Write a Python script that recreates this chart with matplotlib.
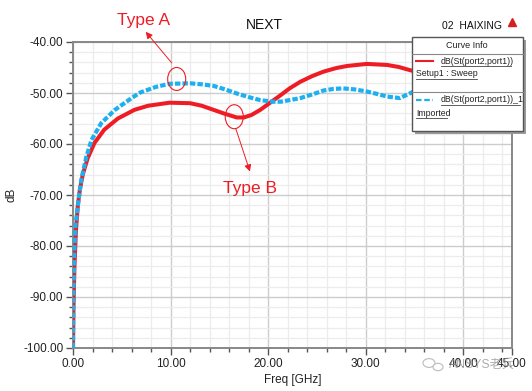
import matplotlib
matplotlib.use('Agg')
import matplotlib.pyplot as plt
from matplotlib.patches import Ellipse, Rectangle, Circle
from matplotlib.lines import Line2D
from matplotlib.ticker import MultipleLocator, FixedLocator, FormatStrFormatter

plt.rcParams['font.family'] = ['Liberation Sans', 'Noto Sans CJK SC', 'DejaVu Sans']

# values
freq_a = [0.0, 0.05, 0.15, 0.3, 0.5, 0.7, 1.0, 1.5, 2.2, 3.2, 4.6, 6.3, 7.7, 9.9,
          12.0, 13.2, 14.4, 15.6, 16.8, 17.5, 18.3, 19.2, 20.5, 21.3, 22.2, 23.3,
          24.5, 25.7, 27.0, 28.1, 30.1, 32.2, 33.4, 34.5, 36.0, 38.0, 40.0, 42.0, 45.0]
sim_a = [-100.0, -92.0, -84.0, -77.0, -72.0, -69.0, -66.0, -62.8, -59.8, -57.2, -55.0,
         -53.3, -52.5, -51.9, -52.0, -52.5, -53.3, -54.1, -54.8, -54.8, -54.3, -53.3,
         -51.5, -50.4, -49.1, -47.8, -46.7, -45.8, -45.1, -44.7, -44.3, -44.5, -44.9,
         -45.5, -46.2, -46.8, -47.3, -47.8, -48.5]

freq_b = [0.0, 0.04, 0.12, 0.25, 0.5, 0.85, 1.37, 1.9, 2.9, 4.3, 6.0, 6.9, 8.5, 9.9,
          12.0, 13.2, 14.4, 15.6, 16.8, 18.0, 19.2, 20.5, 21.3, 22.2, 23.3, 24.5,
          25.7, 26.7, 27.7, 28.9, 30.1, 31.2, 32.2, 33.5, 34.5, 35.5, 38.0, 42.0, 45.0]
meas_b = [-100.0, -90.0, -82.0, -76.0, -72.0, -67.0, -62.5, -59.2, -55.9, -53.3, -51.0,
          -49.9, -48.8, -48.2, -48.1, -48.3, -48.6, -49.3, -50.1, -50.8, -51.4, -51.7,
          -51.7, -51.4, -51.0, -50.3, -49.5, -49.2, -49.1, -49.3, -49.7, -50.2, -50.7,
          -51.0, -50.1, -49.2, -48.8, -49.5, -50.0]

red = '#ee1c25'
blue = '#1db0f0'

W, H = 532, 391
def fx(x):
    return x / W
def fy(y):
    return 1 - y / H

fig = plt.figure(figsize=(5.32, 3.91), dpi=100)
ax = fig.add_axes([fx(73), fy(348), fx(512) - fx(73), fy(42) - fy(348)])

ax.plot(freq_a, sim_a, color=red, lw=2.9, zorder=3)
ax.plot(freq_b, meas_b, color=blue, lw=3.0, dashes=(1.3, 0.5), zorder=3)

ax.set_xlim(0, 45)
ax.set_ylim(-100, -40)
ax.xaxis.set_major_locator(FixedLocator([0, 10, 20, 30, 40, 45]))
ax.xaxis.set_minor_locator(MultipleLocator(2))
ax.yaxis.set_major_locator(MultipleLocator(10))
ax.yaxis.set_minor_locator(MultipleLocator(2))
ax.xaxis.set_major_formatter(FormatStrFormatter('%.2f'))
ax.yaxis.set_major_formatter(FormatStrFormatter('%.2f'))
ax.grid(which='major', color='#cccccc', lw=1.0, zorder=0)
ax.grid(which='minor', color='#ececec', lw=0.9, zorder=0)
ax.set_axisbelow(True)
ax.tick_params(which='major', direction='out', length=5, width=1, color='#555555',
               labelsize=8.5, labelcolor='#222222', pad=2)
ax.tick_params(which='minor', direction='out', length=3, width=1, color='#555555')
for s in ax.spines.values():
    s.set_color('#888888')
    s.set_linewidth(1.4)

ax.set_xlabel('Freq [GHz]', fontsize=8.5, color='#222222', labelpad=3)
ax.set_ylabel('dB', fontsize=8.5, color='#222222', labelpad=4)

fig.text(fx(264), fy(25), 'NEXT', fontsize=10, ha='center', va='center', color='#111111')
fig.text(fx(472), fy(26), '02  HAIXING', fontsize=7.5, ha='center', va='center', color='#111111')
fig.lines.append(Line2D([fx(512)], [fy(22)], marker='^', markersize=6, color='#d42020',
                        transform=fig.transFigure))

# annotations
ax.add_patch(Ellipse((10.63, -47.25), 1.85, 4.5, fill=False, ec=red, lw=0.8, zorder=4))
ax.add_patch(Ellipse((16.53, -54.65), 1.85, 4.7, fill=False, ec=red, lw=0.8, zorder=4))
ax.annotate('', xy=(7.45, -38.0), xytext=(10.12, -44.1), annotation_clip=False,
            arrowprops=dict(arrowstyle='-|>', color=red, lw=0.7, mutation_scale=10,
                            shrinkA=0, shrinkB=0))
ax.annotate('', xy=(18.14, -65.4), xytext=(16.7, -57.06),
            arrowprops=dict(arrowstyle='-|>', color=red, lw=0.7, mutation_scale=10,
                            shrinkA=0, shrinkB=0))
fig.text(fx(143.5), fy(20), 'Type A', fontsize=12.5, color=red, ha='center', va='center')
fig.text(fx(249.7), fy(189), 'Type B', fontsize=12.5, color=red, ha='center', va='center')

# curve info box
fig.patches.append(Rectangle((fx(415), fy(134)), fx(523) - fx(412), fy(37) - fy(131),
                             transform=fig.transFigure, fc='#9a9a9a', ec='none', zorder=5))
fig.patches.append(Rectangle((fx(412), fy(131)), fx(523) - fx(412), fy(37) - fy(131),
                             transform=fig.transFigure, fc='white', ec='#555555', lw=1.0, zorder=6))
for yy in (54, 92):
    fig.lines.append(Line2D([fx(412), fx(523)], [fy(yy), fy(yy)], color='#888888', lw=0.8,
                            transform=fig.transFigure, zorder=7))
fig.text(fx(467), fy(46), 'Curve Info', fontsize=6.5, ha='center', va='center', color='#222222', zorder=8)
fig.lines.append(Line2D([fx(416), fx(433)], [fy(61), fy(61)], color=red, lw=1.5,
                        transform=fig.transFigure, zorder=8))
fig.lines.append(Line2D([fx(416), fx(433)], [fy(100), fy(100)], color=blue, lw=1.6,
                        dashes=(2.5, 1.2), transform=fig.transFigure, zorder=8))
entries = [(441, 61, 'dB(St(port2,port1))', 511),
           (416, 74, 'Setup1 : Sweep', 477),
           (441, 100, 'dB(St(port2,port1))_1', 520),
           (416, 113, 'Imported', 447)]
for x0, y0, txt, x1 in entries:
    fig.text(fx(x0), fy(y0), txt, fontsize=6.3, ha='left', va='center', color='#222222', zorder=8)
    fig.lines.append(Line2D([fx(x0), fx(x1)], [fy(y0 + 4.5), fy(y0 + 4.5)], color='#444444',
                            lw=0.6, transform=fig.transFigure, zorder=8))

# watermark
fig.patches.append(Circle((fx(429), fy(363)), 6 / W, transform=fig.transFigure, fill=False,
                          ec='#bbbbbb', lw=0.8, zorder=9))
fig.patches.append(Circle((fx(438), fy(367)), 5 / W, transform=fig.transFigure, fc='white',
                          ec='#bbbbbb', lw=0.8, zorder=9))
fig.text(fx(449), fy(365), 'ANSYS老兵', fontsize=8.8, ha='left', va='center',
         color='#999999', alpha=0.8, zorder=10)

fig.savefig('out.png', dpi=100)
